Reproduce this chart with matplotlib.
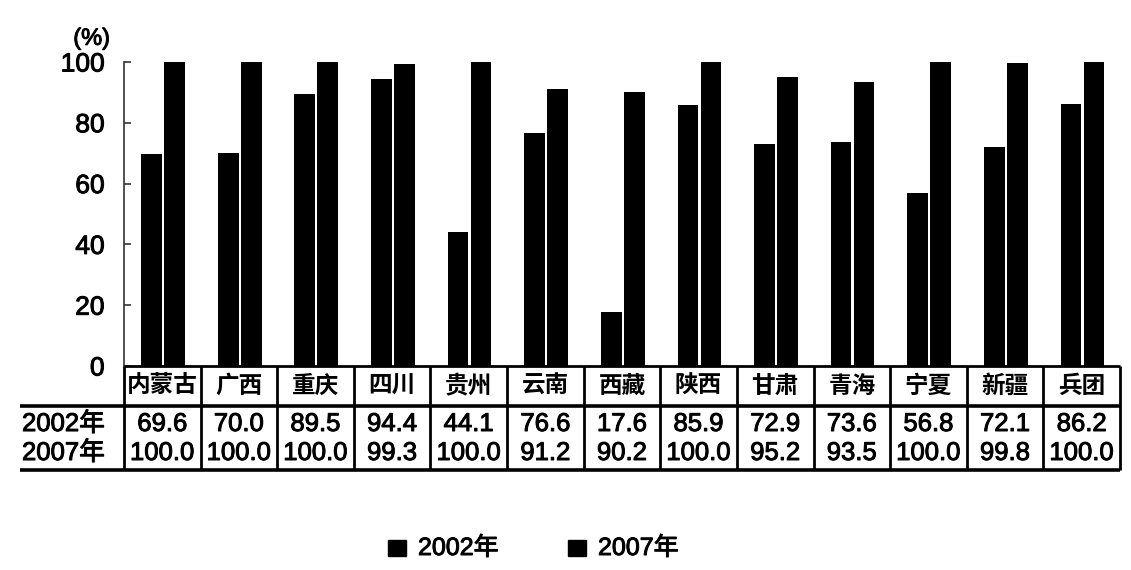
import matplotlib
matplotlib.use("Agg")
import matplotlib.pyplot as plt
import matplotlib.patheffects as pe
from matplotlib.lines import Line2D
from matplotlib.patches import Rectangle

plt.rcParams['font.family'] = ['Liberation Sans', 'Noto Sans CJK SC', 'DejaVu Sans']

categories = ['内蒙古', '广西', '重庆', '四川', '贵州', '云南', '西藏', '陕西', '甘肃', '青海', '宁夏', '新疆', '兵团']
v2002 = [69.6, 70.0, 89.5, 94.4, 44.1, 76.6, 17.6, 85.9, 72.9, 73.6, 56.8, 72.1, 86.2]
v2007 = [100.0, 100.0, 100.0, 99.3, 100.0, 91.2, 90.2, 100.0, 95.2, 93.5, 100.0, 99.8, 100.0]
series_labels = ['2002年', '2007年']
yticks = [0, 20, 40, 60, 80, 100]

thick = [pe.withStroke(linewidth=0.7, foreground='black')]

W, H = 1131, 570
fig = plt.figure(figsize=(W / 100, H / 100), dpi=100)
x0, x1, ytop, ybot = 124, 1120, 62, 366
ax = fig.add_axes([x0 / W, 1 - ybot / H, (x1 - x0) / W, (ybot - ytop) / H])
n = len(categories)
ax.set_xlim(0, n)
ax.set_ylim(0, 100)

xs = [i + 0.5 for i in range(n)]
bw = 0.27
ax.bar([x - 0.14 for x in xs], v2002, width=bw, color='black', zorder=3)
ax.bar([x + 0.16 for x in xs], v2007, width=bw, color='black', zorder=3)

for s in ['top', 'right', 'bottom']:
    ax.spines[s].set_visible(False)
ax.spines['left'].set_color('#333333')
ax.spines['left'].set_linewidth(1.2)
ax.set_xticks([])
ax.set_yticks(yticks)
ax.tick_params(axis='y', direction='in', length=5, width=1.2, color='#333333',
               labelsize=19, pad=14)
for t in ax.get_yticklabels():
    t.set_path_effects(thick)
ax.text(-0.42, 104, '(%)', fontsize=17, ha='center', va='bottom', clip_on=False,
        path_effects=thick)

ppu = (ybot - ytop) / 100.0   # px per data unit
cw = (x1 - x0) / n            # px per category


def yd(py):
    return (ybot - py) / ppu


def xd(px):
    return (px - x0) / cw


kw = dict(color='black', clip_on=False, zorder=5, solid_capstyle='butt')
# horizontal lines of the table
ax.add_line(Line2D([0, n], [0, 0], lw=2.0, **kw))
ax.add_line(Line2D([xd(20), n], [yd(406), yd(406)], lw=2.6, **kw))
ax.add_line(Line2D([xd(20), n], [yd(470), yd(470)], lw=2.6, **kw))
# vertical separators
for i in range(n + 1):
    ax.add_line(Line2D([i, i], [0, yd(470)], lw=2.0, **kw))

fs = 18.5
for i, c in enumerate(categories):
    ax.text(xs[i], yd(386), c, fontsize=17, fontweight='bold', ha='center', va='center',
            clip_on=False)
    ax.text(xs[i], yd(424), f'{v2002[i]:.1f}', fontsize=fs, ha='center', va='center',
            clip_on=False, path_effects=thick)
    ax.text(xs[i], yd(453), f'{v2007[i]:.1f}', fontsize=fs, ha='center', va='center',
            clip_on=False, path_effects=thick)
ax.text(xd(22), yd(424), series_labels[0], fontsize=fs, ha='left', va='center',
        clip_on=False, path_effects=thick)
ax.text(xd(22), yd(453), series_labels[1], fontsize=fs, ha='left', va='center',
        clip_on=False, path_effects=thick)

# legend
for lx, tx, lab in [(388, 418, series_labels[0]), (568, 598, series_labels[1])]:
    fig.patches.append(Rectangle((lx / W, 1 - 556 / H), 18 / W, 16 / H,
                                 transform=fig.transFigure, color='black'))
    fig.text(tx / W, 1 - 548 / H, lab, fontsize=18, ha='left', va='center',
             path_effects=thick)

fig.savefig('out.png', dpi=100)
